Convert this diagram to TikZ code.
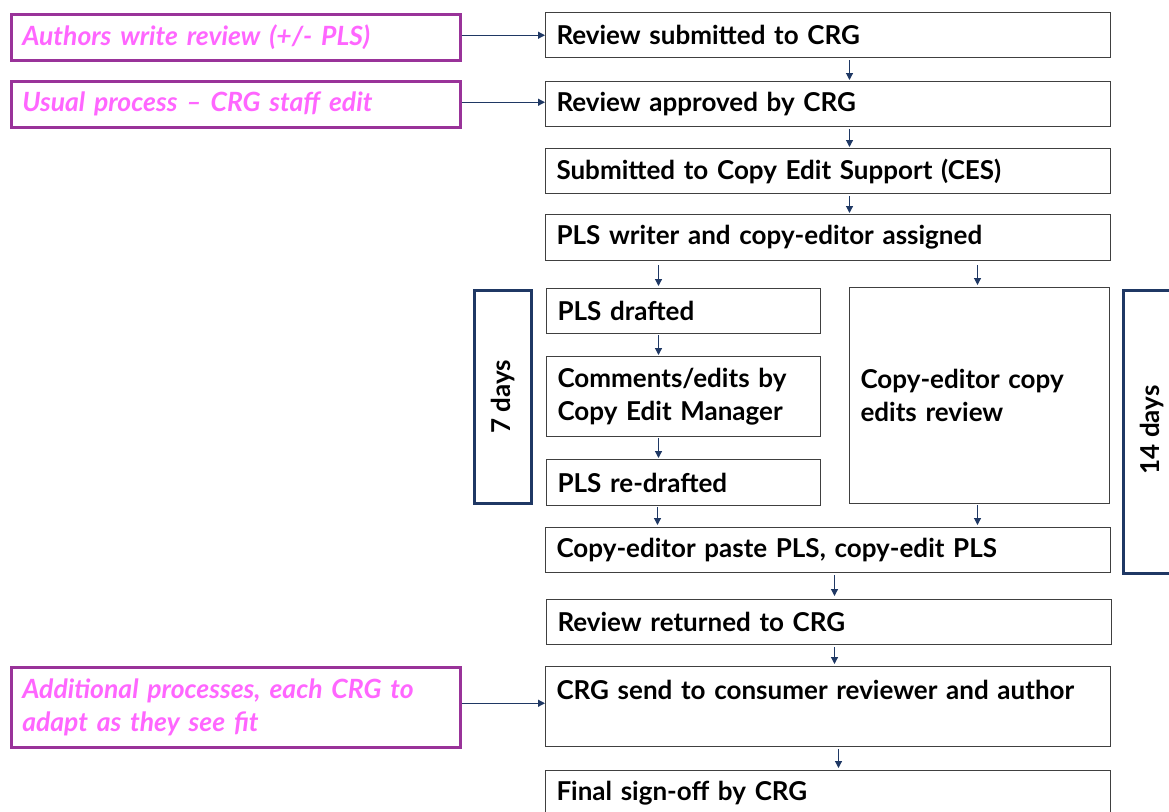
\documentclass[tikz,border=0pt]{standalone}
\usepackage{fontspec}
\setmainfont{Lato}
\usetikzlibrary{arrows.meta}
\definecolor{navy}{HTML}{1F3864}
\definecolor{pinktxt}{HTML}{FF66FF}
\definecolor{purp}{HTML}{993399}
\definecolor{boxline}{HTML}{404040}
\tikzset{
  stepbox/.style={draw=boxline, line width=1pt, inner sep=0pt, inner xsep=11pt,
    font=\fontsize{26}{32.5}\selectfont\bfseries, align=left, anchor=north west},
  notebox/.style={draw=purp, line width=2.5pt, inner sep=0pt, inner xsep=11pt,
    font=\fontsize{26.5}{32.5}\selectfont\bfseries\itshape, text=pinktxt, align=left, anchor=north west},
  daybox/.style={draw=navy, line width=3pt, anchor=north west, inner sep=0pt},
  daytext/.style={font=\fontsize{26}{30}\selectfont\bfseries, rotate=90},
  flow/.style={draw=navy, line width=1.2pt, -{Triangle[length=7pt,width=7pt]}}
}
\begin{document}
\begin{tikzpicture}[x=1pt,y=-1pt]
\useasboundingbox (0,0) rectangle (1169,811);
% left note boxes
\node[notebox, minimum width=449pt, minimum height=46pt, text width=427pt] (a1) at (10,13) {Authors write review (+/- PLS)};
\node[notebox, minimum width=449pt, minimum height=46pt, text width=427pt] (a2) at (10,80) {Usual process -- CRG staff edit};
\node[notebox, minimum width=449pt, minimum height=80pt, text width=427pt] (a3) at (10,666) {Additional processes, each CRG to\\adapt as they see fit};
% main boxes
\node[stepbox, minimum width=565pt, minimum height=45pt, text width=543pt] (b1) at (545,12) {Review submitted to CRG};
\node[stepbox, minimum width=565pt, minimum height=45pt, text width=543pt] (b2) at (545,81) {Review approved by CRG};
\node[stepbox, minimum width=565pt, minimum height=45pt, text width=543pt] (b3) at (545,148) {Submitted to Copy Edit Support (CES)};
\node[stepbox, minimum width=565pt, minimum height=46pt, text width=543pt] (b4) at (545,214) {PLS writer and copy-editor assigned};
\node[stepbox, minimum width=274pt, minimum height=45pt, text width=252pt] (b5) at (546,288) {PLS drafted};
\node[stepbox, minimum width=274pt, minimum height=80pt, text width=252pt] (b6) at (546,356) {Comments/edits by\\Copy Edit Manager};
\node[stepbox, minimum width=274pt, minimum height=46pt, text width=252pt] (b7) at (546,459) {PLS re-drafted};
\node[stepbox, minimum width=260pt, minimum height=216pt, text width=238pt] (b8) at (849,287) {Copy-editor copy\\edits review};
\node[stepbox, minimum width=565pt, minimum height=45pt, text width=543pt] (b9) at (545,527) {Copy-editor paste PLS, copy-edit PLS};
\node[stepbox, minimum width=565pt, minimum height=45pt, text width=543pt] (b10) at (546,599) {Review returned to CRG};
\node[stepbox, minimum width=565pt, minimum height=80pt, text width=543pt] (b11) at (545,666) {CRG send to consumer reviewer and author\\\mbox{}};
\node[stepbox, minimum width=565pt, minimum height=46pt, text width=543pt] (b12) at (545,770) {Final sign-off by CRG};
% day brackets
\node[daybox, minimum width=57pt, minimum height=213pt] (d7) at (473,289) {};
\node[daytext] (t7) at (d7.center) {7 days};
\node[daybox, minimum width=60pt, minimum height=283pt] (d14) at (1122,289) {};
\node[daytext] (t14) at (1152,430) {14 days};
% arrows
\draw[flow] ([yshift=2pt]a1.east) -- ([yshift=2pt]a1.east -| b1.west);
\draw[flow] ([yshift=2pt]a2.east) -- ([yshift=2pt]a2.east -| b2.west);
\draw[flow] ([yshift=4pt]a3.east) -- ([yshift=4pt]a3.east -| b11.west);
\draw[flow] ([xshift=21.5pt,yshift=-2pt]b1.south) -- ([xshift=21.5pt,yshift=1pt]b2.north);
\draw[flow] ([xshift=21.5pt,yshift=-2pt]b2.south) -- ([xshift=21.5pt,yshift=1pt]b3.north);
\draw[flow] ([xshift=21.5pt,yshift=-2pt]b3.south) -- ([xshift=21.5pt,yshift=1pt]b4.north);
\draw[flow] ([xshift=-25pt,yshift=-4pt]b4.south -| b5.north) -- ([xshift=-25pt,yshift=2pt]b5.north);
\draw[flow] ([xshift=-2pt,yshift=-4pt]b4.south -| b8.north) -- ([xshift=-2pt,yshift=2pt]b8.north);
\draw[flow] ([xshift=-25pt,yshift=-1pt]b5.south) -- ([xshift=-25pt,yshift=1pt]b6.north);
\draw[flow] ([xshift=-25pt,yshift=-1pt]b6.south) -- ([xshift=-25pt,yshift=1pt]b7.north);
\draw[flow] ([xshift=-26pt,yshift=-1pt]b7.south) -- ([xshift=-26pt,yshift=2pt]b7.south |- b9.north);
\draw[flow] ([xshift=-2pt,yshift=-1pt]b8.south) -- ([xshift=-2pt,yshift=2pt]b8.south |- b9.north);
\draw[flow] ([xshift=6.5pt,yshift=-2pt]b9.south) -- ([xshift=6.5pt,yshift=3pt]b9.south |- b10.north);
\draw[flow] ([xshift=5.5pt,yshift=-2pt]b10.south) -- ([xshift=5.5pt,yshift=2pt]b10.south |- b11.north);
\draw[flow] ([xshift=10.5pt,yshift=-2pt]b11.south) -- ([xshift=10.5pt,yshift=2pt]b12.north);
\end{tikzpicture}
\end{document}
